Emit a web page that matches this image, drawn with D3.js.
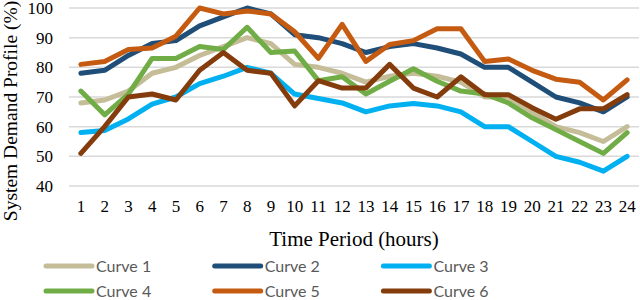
<!DOCTYPE html>
<html>
<head>
<meta charset="utf-8">
<script src="https://cdn.jsdelivr.net/npm/d3@7"></script>
<style>
  body { margin: 0; background: #fff; }
  svg { display: block; }
</style>
</head>
<body>
<svg width="640" height="300"></svg>
<script>
// Data
const hours = d3.range(1, 25);
const yTicks = [40, 50, 60, 70, 80, 90, 100];
const curveNames = ['Curve 1', 'Curve 2', 'Curve 3', 'Curve 4', 'Curve 5', 'Curve 6'];
const curveColors = ['#C4BD97', '#1F4E79', '#00B0F0', '#70AD47', '#C55A11', '#843C0C'];

const curve1 = [68, 69, 72, 78, 80, 84, 87, 90, 88, 81, 80, 78, 75, 77, 78, 77, 75, 70, 70, 65, 60, 58, 55, 60];
const curve2 = [78, 79, 84, 88, 89, 94, 97, 100, 98, 91, 90, 88, 85, 87, 88, 86.5, 84.5, 80, 80, 75, 70, 68, 65, 70];
const curve3 = [58, 58.7, 62.6, 67.6, 70, 74.5, 77, 80, 78, 71, 69.5, 68, 65, 67, 67.8, 67, 65, 60, 60, 55, 50, 48, 45, 50];
const curve4 = [72, 64, 71, 83, 83, 87, 86, 93.5, 85, 85.5, 75.5, 76.8, 71, 75.3, 79.5, 75.3, 72, 71, 68, 63, 59, 55, 51, 58];
const curve5 = [81, 82, 86, 86.5, 90.5, 100, 98, 99, 98, 92, 83, 94.5, 82, 87.7, 89, 93, 93, 82, 82.8, 79, 76, 75, 69, 75.8];
const curve6 = [51, 60, 70, 71, 69, 79, 85, 79, 78, 67, 75.5, 73, 73, 81, 73, 70, 76.8, 70.8, 70.8, 66.4, 62.5, 66, 66, 70.8];
const curves = [curve1, curve2, curve3, curve4, curve5, curve6];

const svg = d3.select('svg');
const margin = { top: 8, right: 1, bottom: 114, left: 69 };
const width = 640 - margin.left - margin.right;
const height = 300 - margin.top - margin.bottom;

const g = svg.append('g')
  .attr('transform', `translate(${margin.left}, ${margin.top})`);

const xScale = d3.scaleBand()
  .domain(hours)
  .range([0, width]);

const yScale = d3.scaleLinear()
  .domain([40, 100])
  .range([height, 0]);

// Gridlines
g.append('g')
  .selectAll('line')
  .data(yTicks)
  .enter()
  .append('line')
  .attr('x1', 0)
  .attr('x2', width)
  .attr('y1', d => yScale(d))
  .attr('y2', d => yScale(d))
  .attr('stroke', '#d9d9d9')
  .attr('stroke-width', 1.5);

// Axes (labels only)
const yAxis = g.append('g')
  .call(d3.axisLeft(yScale).tickValues(yTicks).tickSize(0).tickPadding(16));
yAxis.select('.domain').remove();
yAxis.selectAll('text')
  .attr('font-family', '"Liberation Serif", serif')
  .attr('font-size', 17)
  .attr('fill', '#000');

const xAxis = g.append('g')
  .attr('transform', `translate(0, ${height})`)
  .call(d3.axisBottom(xScale).tickSize(0).tickPadding(14));
xAxis.select('.domain').remove();
xAxis.selectAll('text')
  .attr('font-family', '"Liberation Serif", serif')
  .attr('font-size', 17)
  .attr('fill', '#000');

// Lines
const line = d3.line()
  .x((d, i) => xScale(hours[i]) + xScale.bandwidth() / 2)
  .y(d => yScale(d));

g.selectAll('.curve')
  .data(curves)
  .enter()
  .append('path')
  .attr('class', 'curve')
  .attr('d', line)
  .attr('fill', 'none')
  .attr('stroke', (d, i) => curveColors[i])
  .attr('stroke-width', 5)
  .attr('stroke-linejoin', 'round')
  .attr('stroke-linecap', 'round');

// Axis titles
svg.append('text')
  .attr('x', margin.left + width / 2)
  .attr('y', 246)
  .attr('text-anchor', 'middle')
  .attr('font-family', '"Liberation Serif", serif')
  .attr('font-size', 21)
  .text('Time Period (hours)');

svg.append('text')
  .attr('transform', 'translate(17, 111) rotate(-90)')
  .attr('text-anchor', 'middle')
  .attr('font-family', '"Liberation Serif", serif')
  .attr('font-size', 19.5)
  .text('System Demand Profile (%)');

// Legend
const legend = svg.append('g');
const legendItems = legend.selectAll('g')
  .data(curveNames)
  .enter()
  .append('g')
  .attr('transform', (d, i) => `translate(${46 + (i % 3) * 168.7}, ${266 + Math.floor(i / 3) * 25})`);

legendItems.append('line')
  .attr('x1', 0)
  .attr('x2', 46)
  .attr('stroke', (d, i) => curveColors[i])
  .attr('stroke-width', 5)
  .attr('stroke-linecap', 'round');

legendItems.append('text')
  .attr('x', 50)
  .attr('dy', '0.35em')
  .attr('font-family', 'Lato, sans-serif')
  .attr('font-size', 16)
  .attr('fill', '#595959')
  .text(d => d);
</script>
</body>
</html>
